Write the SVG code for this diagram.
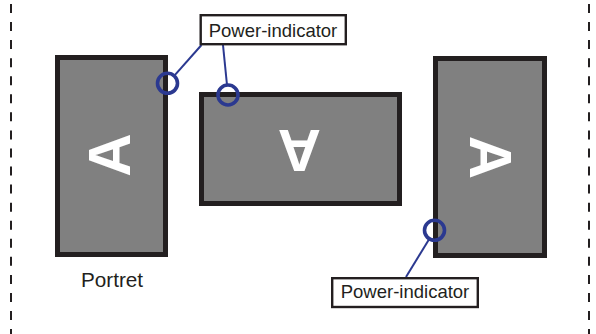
<svg xmlns="http://www.w3.org/2000/svg" width="596" height="334" viewBox="0 0 596 334">
<style>
.frame{fill:none;stroke:#231f20;stroke-width:2;stroke-dasharray:9 9.06}
.screen{fill:#808080;stroke:#231f20;stroke-width:5}
.letter{fill:#ffffff;font-family:"Liberation Sans",Arial,sans-serif;font-weight:bold;font-size:60px;text-anchor:middle}
.lbox{fill:#ffffff;stroke:#231f20;stroke-width:2.4}
.ltext{fill:#231f20;font-family:"Liberation Sans",Arial,sans-serif;font-size:18.5px;text-anchor:middle}
.lead{stroke:#2b3990;stroke-width:2;fill:none}
.ind{fill:none;stroke:#2b3990;stroke-width:3.6}
</style>
<rect width="596" height="334" fill="#ffffff"/>
<g id="frame">
<line class="frame" x1="11" y1="4" x2="11" y2="334"/>
<line class="frame" x1="589" y1="4" x2="589" y2="334"/>
</g>
<g id="portrait-left">
<rect class="screen" x="57.5" y="57.5" width="108" height="197"/>
<text class="letter" x="108.8" y="176.5" transform="rotate(-90 108.8 155)">A</text>
</g>
<g id="landscape-flipped">
<rect class="screen" x="201.5" y="94.5" width="198" height="109"/>
<text class="letter" x="299.2" y="172.8" transform="rotate(180 299.2 151.3)">A</text>
</g>
<g id="portrait-right">
<rect class="screen" x="435.5" y="58.5" width="109" height="197"/>
<text class="letter" x="491" y="179" transform="rotate(90 491 157.5)">A</text>
</g>
<g id="label-portret">
<text class="ltext" x="112" y="287" style="font-size:20.7px">Portret</text>
</g>
<g id="connectors">
<line class="lead" x1="201.5" y1="45" x2="174.8" y2="75.1"/>
<line class="lead" x1="223" y1="45" x2="226.9" y2="84"/>
<line class="lead" x1="406" y1="277" x2="428.8" y2="239.7"/>
</g>
<g id="indicators">
<circle class="ind" cx="167.5" cy="83.3" r="10"/>
<circle class="ind" cx="228" cy="95" r="10"/>
<circle class="ind" cx="434.5" cy="230.3" r="10"/>
</g>
<g id="label-power-top">
<rect class="lbox" x="200.7" y="15.2" width="145.1" height="29"/>
<text class="ltext" x="273" y="36.5">Power-indicator</text>
</g>
<g id="label-power-bottom">
<rect class="lbox" x="332.2" y="278.2" width="145.6" height="28.8"/>
<text class="ltext" x="405" y="297.5">Power-indicator</text>
</g>
</svg>
